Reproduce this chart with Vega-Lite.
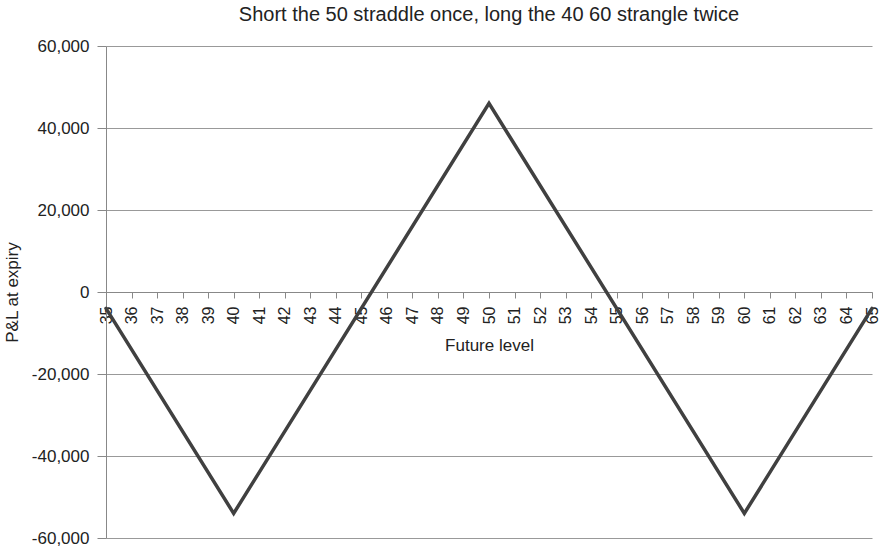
{
  "$schema": "https://vega.github.io/schema/vega-lite/v6.json",
  "autosize": "none",
  "width": 766,
  "height": 492,
  "padding": {"left": 106, "top": 46, "right": 8, "bottom": 8},
  "background": "white",
  "config": {
    "font": "Liberation Sans",
    "view": {"stroke": null}
  },
  "title": {
    "text": "Short the 50 straddle once, long the 40 60 strangle twice",
    "fontSize": 20,
    "fontWeight": "normal",
    "color": "#222222",
    "anchor": "middle",
    "offset": 12
  },
  "data": {
    "values": [
      {"level": 35, "pnl": -4000},
      {"level": 40, "pnl": -54000},
      {"level": 50, "pnl": 46000},
      {"level": 60, "pnl": -54000},
      {"level": 65, "pnl": -4000}
    ]
  },
  "mark": {"type": "line", "color": "#404040", "strokeWidth": 3.5, "strokeCap": "round", "strokeJoin": "miter"},
  "encoding": {
    "x": {
      "field": "level",
      "type": "quantitative",
      "scale": {"domain": [35, 65], "nice": false, "zero": false},
      "axis": {
        "title": "Future level",
        "titleFontSize": 17,
        "titleFontWeight": "normal",
        "titleColor": "#222222",
        "titlePadding": 14,
        "offset": -246,
        "values": [35,36,37,38,39,40,41,42,43,44,45,46,47,48,49,50,51,52,53,54,55,56,57,58,59,60,61,62,63,64,65],
        "labelAngle": 270,
        "labelFontSize": 16,
        "labelColor": "#222222",
        "labelPadding": 8,
        "labelOverlap": false,
        "labelFlush": false,
        "tickSize": 6,
        "tickColor": "#888888",
        "domainColor": "#888888",
        "grid": false,
        "zindex": 0
      }
    },
    "y": {
      "field": "pnl",
      "type": "quantitative",
      "scale": {"domain": [-60000, 60000], "nice": false},
      "axis": {
        "title": "P&L at expiry",
        "titleFontSize": 17,
        "titleFontWeight": "normal",
        "titleColor": "#222222",
        "titlePadding": 10,
        "values": [-60000, -40000, -20000, 0, 20000, 40000, 60000],
        "labelExpr": "replace(format(datum.value, ','), '−', '-')",
        "labelFontSize": 17,
        "labelColor": "#222222",
        "labelPadding": 8,
        "tickSize": 9,
        "tickColor": "#888888",
        "domainColor": "#888888",
        "grid": true,
        "gridColor": "#999999",
        "gridWidth": 1
      }
    }
  }
}
